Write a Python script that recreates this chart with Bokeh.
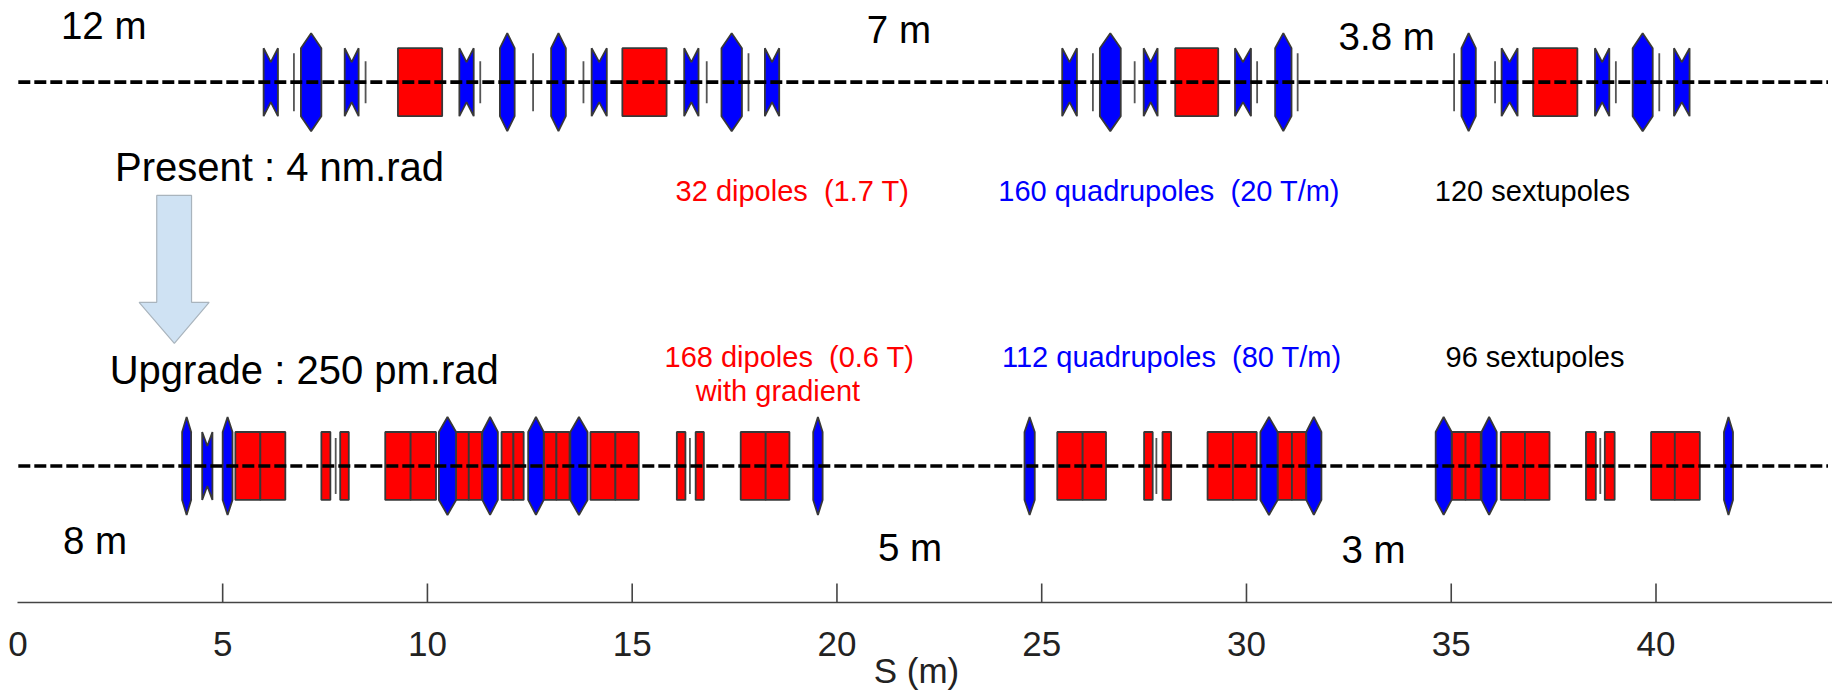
from bokeh.plotting import figure
from bokeh.models import Range1d, FixedTicker, ColumnDataSource
from bokeh.core.properties import value
from bokeh.embed import file_html
from bokeh.resources import INLINE

# ---- data (S positions in metres) ----
row_top = 81.7
row_bottom = 465.7
beam_start, beam_end = 0.01, 44.2
axis_ticks = [0, 5, 10, 15, 20, 25, 30, 35, 40]
drawn_ticks = [5, 10, 15, 20, 25, 30, 35, 40]

top_dipole_start = [9.28, 14.76, 28.26, 37.00]
top_dipole_end = [10.36, 15.84, 29.31, 38.08]
top_long_quad_start = [6.91, 11.77, 13.02, 17.18, 26.42, 30.70, 35.25, 39.43]
top_long_quad_end = [7.41, 12.13, 13.38, 17.68, 26.93, 31.10, 35.60, 39.92]
top_short_quad_start = [6.00, 7.98, 10.78, 14.01, 16.27, 18.24, 25.50, 27.49, 29.72, 36.23, 38.51, 40.44]
top_short_quad_end = [6.35, 8.32, 11.13, 14.38, 16.62, 18.59, 25.86, 27.83, 30.11, 36.62, 38.86, 40.82]
top_tall_sext = [6.74, 12.58, 17.84, 26.25, 31.25, 35.07, 40.08]
top_short_sext = [8.49, 11.29, 13.81, 16.82, 27.27, 30.26, 36.07, 39.02]

bot_pair_start = [5.31, 8.97, 10.70, 11.81, 12.84, 13.98, 17.65, 25.38, 29.05, 30.76, 35.01, 36.21, 39.88]
bot_pair_mid = [5.92, 9.59, 11.01, 12.10, 13.15, 14.59, 18.26, 26.00, 29.67, 31.11, 35.35, 36.80, 40.46]
bot_pair_end = [6.53, 10.21, 11.33, 12.35, 13.47, 15.16, 18.84, 26.57, 30.25, 31.46, 35.72, 37.40, 41.07]
bot_small_dipole_start = [7.41, 7.87, 16.09, 16.55, 27.50, 27.95, 38.29, 38.75]
bot_small_dipole_end = [7.63, 8.08, 16.30, 16.75, 27.71, 28.16, 38.53, 38.99]
bot_long_quad_start = [4.01, 5.00, 10.28, 11.34, 12.46, 13.49, 19.42, 24.58, 30.34, 31.46, 34.62, 35.74, 41.66]
bot_long_quad_end = [4.23, 5.24, 10.70, 11.72, 12.84, 13.91, 19.65, 24.83, 30.76, 31.83, 35.01, 36.11, 41.88]
bot_short_quad_start = [4.50]
bot_short_quad_end = [4.75]
bot_sext = [7.76, 16.41, 27.80, 38.64]

text_black = ["12 m", "7 m", "3.8 m", "8 m", "5 m", "3 m"]
text_black_s = [1.05, 20.73, 32.25, 1.10, 21.00, 32.32]
text_black_y = [37.7, 42, 49, 553.7, 560.7, 562]
text_title = ["Present : 4 nm.rad", "Upgrade : 250 pm.rad"]
text_title_s = [2.37, 2.24]
text_title_y = [180, 383]
text_red = ["32 dipoles \u00a0(1.7 T)", "168 dipoles \u00a0(0.6 T)", "with gradient"]
text_red_s = [16.06, 15.79, 16.55]
text_red_y = [200, 366.7, 400.7]
text_blue = ["160 quadrupoles \u00a0(20 T/m)", "112 quadrupoles \u00a0(80 T/m)"]
text_blue_s = [23.94, 24.03]
text_blue_y = [200, 366.7]
text_sext = ["120 sextupoles", "96 sextupoles"]
text_sext_s = [34.60, 34.86]
text_sext_y = [200, 366.7]

# ---- scales: x in metres, y in picture rows ----
FONT = value("Liberation Sans")
x0 = -0.425
x1 = 44.31
p = figure(width=1832, height=692, output_backend="svg", toolbar_location=None,
           x_range=Range1d(x0, x1), y_range=Range1d(602.3, 0.0),
           min_border=0, min_border_left=0, min_border_right=0, min_border_top=0, min_border_bottom=0,
           outline_line_color=None, background_fill_color="white", border_fill_color="white")
p.grid.visible = False
p.yaxis.visible = False

ax = p.xaxis[0]
ax.ticker = FixedTicker(ticks=axis_ticks)
ax.bounds = (0, x1)
ax.major_tick_in = 0
ax.major_tick_out = 0
ax.minor_tick_line_color = None
ax.axis_line_color = "#444444"
ax.axis_line_width = 1.6
ax.major_label_text_font = "Liberation Sans"
ax.major_label_text_font_size = "35px"
ax.major_label_text_color = "#222222"
ax.major_label_standoff = 29
ax.axis_label = "S (m)"
ax.axis_label_text_font = "Liberation Sans"
ax.axis_label_text_font_style = "normal"
ax.axis_label_text_font_size = "35px"
ax.axis_label_text_color = "#222222"
ax.axis_label_standoff = -8

OUT = "#383838"
RED = "#ff0000"
BLUE = "#0000ff"
DIP = 34.0    # half height of magnets
TIP = 49.0    # half height of long quad tips
NOTCH = 20.0  # half height of the notch of short quads
SHOULDER = 34.0


def hexagon(a, b, c):
    m = (a + b) / 2
    return ([a, m, b, b, m, a], [c - SHOULDER, c - TIP, c - SHOULDER, c + SHOULDER, c + TIP, c + SHOULDER])


def bowtie(a, b, c):
    m = (a + b) / 2
    return ([a, m, b, b, m, a], [c - DIP, c - NOTCH, c - DIP, c + DIP, c + NOTCH, c + DIP])


def polygons(fn, starts, ends, c):
    xs, ys = [], []
    for a, b in zip(starts, ends):
        x, y = fn(a, b, c)
        xs.append(x)
        ys.append(y)
    return xs, ys


def dipoles(left, right, c):
    p.quad(left=left, right=right, top=[c - DIP] * len(left), bottom=[c + DIP] * len(left),
           fill_color=RED, line_color=OUT, line_width=1.8)


def quads(fn, starts, ends, c):
    xs, ys = polygons(fn, starts, ends, c)
    p.patches(xs, ys, fill_color=BLUE, line_color=OUT, line_width=1.8)


def sext(xs, half, c):
    p.segment(x0=xs, x1=xs, y0=[c - half] * len(xs), y1=[c + half] * len(xs), line_color="#555555", line_width=1.8)


# top lattice
dipoles(top_dipole_start, top_dipole_end, row_top)
quads(hexagon, top_long_quad_start, top_long_quad_end, row_top)
quads(bowtie, top_short_quad_start, top_short_quad_end, row_top)
sext(top_tall_sext, 29, row_top)
sext(top_short_sext, 21, row_top)

# bottom lattice
dipoles(bot_pair_start, bot_pair_mid, row_bottom)
dipoles(bot_pair_mid, bot_pair_end, row_bottom)
dipoles(bot_small_dipole_start, bot_small_dipole_end, row_bottom)
quads(hexagon, bot_long_quad_start, bot_long_quad_end, row_bottom)
quads(bowtie, bot_short_quad_start, bot_short_quad_end, row_bottom)
sext(bot_sext, 28, row_bottom)

# beam axes
for c in (row_top, row_bottom):
    p.line([beam_start, beam_end], [c, c], line_color="black", line_width=3.6, line_dash="12 4")

# ticks of S axis
p.segment(x0=drawn_ticks, x1=drawn_ticks, y0=[602.3] * len(drawn_ticks), y1=[583.3] * len(drawn_ticks),
          line_color="#444444", line_width=1.6)

# arrow Present -> Upgrade
p.patch([3.39, 4.24, 4.24, 4.67, 3.82, 2.96, 3.39], [195, 195, 302, 302, 343, 302, 302],
        fill_color="#cfe2f3", line_color="#a9b4bd", line_width=1.2)


def texts(t, s, y, color, size):
    src = ColumnDataSource(dict(t=t, s=s, y=y))
    p.text(x="s", y="y", text="t", source=src, text_color=color, text_font=FONT, text_font_size=f"{size}px",
           text_align="left", text_baseline="alphabetic", y_offset=-0.34 * size)


texts(text_black, text_black_s, text_black_y, "black", 38.5)
texts(text_title, text_title_s, text_title_y, "black", 40)
texts(text_red, text_red_s, text_red_y, RED, 29)
texts(text_blue, text_blue_s, text_blue_y, BLUE, 29)
texts(text_sext, text_sext_s, text_sext_y, "black", 29)

open("out.html", "w").write(file_html(p, INLINE))
